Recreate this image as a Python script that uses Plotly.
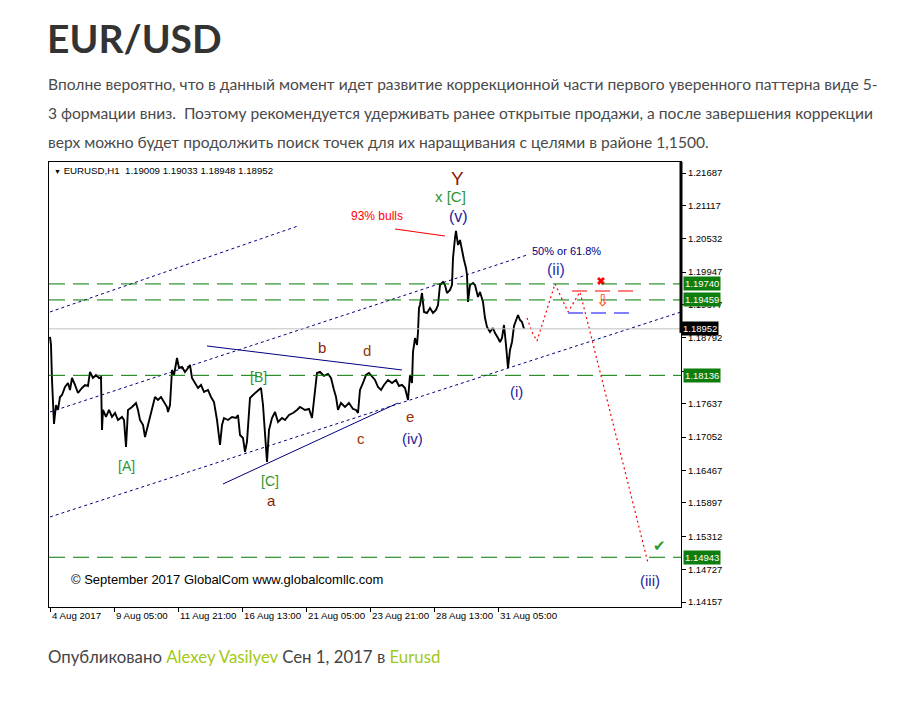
import plotly.graph_objects as go

# ---------------- data ----------------
bar_index = [0,1,2,3,4,6,8,10,12,15,18,20,22,25,28,32,35,38,40,43,46,49,51,52,53,56,59,62,65,68,72,74,76,78,82,86,88,90,93,95,97,
             100,103,105,108,111,114,117,118,120,122,124,127,129,132,135,138,140,142,145,148,151,154,158,161,164,167,170,172,174,178,182,186,188,190,193,195,197,
             200,203,206,208,211,213,215,217,219,222,225,228,232,235,239,243,247,250,255,259,262,265,267,270,274,278,281,284,286,288,291,295,299,
             303,306,308,310,313,316,319,322,325,328,331,334,338,342,346,349,352,355,358,360,362,363,365,367,368,369,370,372,374,377,380,383,386,388,390,393,395,397,
             400,402,403,405,406,407,408,410,412,414,416,417,418,420,423,425,428,430,433,435,437,440,443,445,448,450,452,454,456,458,460,462,464,466,468,470,472,474]
close_price = [1.18809,1.18668,1.18054,1.17528,1.17282,1.17615,1.17528,1.17756,1.17791,1.17931,1.18002,1.17879,1.18089,1.17967,1.17826,1.17914,1.17967,1.17950,1.18195,1.18089,1.18142,1.18089,1.18107,1.17177,1.17528,1.17405,1.17528,1.17405,1.17475,1.17352,1.17405,1.17352,1.16878,1.17528,1.17580,1.17651,1.17528,1.17352,1.17265,1.17054,1.17177,
               1.17405,1.17615,1.17756,1.17703,1.17756,1.17668,1.17580,1.17493,1.17615,1.18230,1.18142,1.18440,1.18265,1.18282,1.18195,1.18265,1.18318,1.18089,1.18002,1.17914,1.17967,1.17844,1.17879,1.17756,1.17668,1.17352,1.16913,1.17265,1.17387,1.17352,1.17405,1.17387,1.17440,1.17089,1.17036,1.16791,1.16973,
               1.17738,1.17791,1.17844,1.17879,1.17914,1.17615,1.17089,1.16615,1.17177,1.17387,1.17493,1.17317,1.17387,1.17352,1.17440,1.17475,1.17528,1.17580,1.17528,1.17545,1.17387,1.17826,1.18177,1.18195,1.18125,1.18160,1.18089,1.17879,1.17756,1.17528,1.17651,1.17580,1.17651,
               1.17545,1.17528,1.17475,1.17879,1.18002,1.18142,1.18177,1.18107,1.18054,1.17931,1.17879,1.17967,1.18054,1.18002,1.18054,1.17949,1.17967,1.17914,1.17703,1.18142,1.18002,1.18546,1.18791,1.18668,1.18897,1.19318,1.19370,1.19581,1.19248,1.19230,1.19318,1.19230,1.19283,1.19370,1.19721,1.19774,1.19721,1.19581,
               1.19634,1.19721,1.20195,1.20546,1.20669,1.20546,1.20423,1.20511,1.20301,1.20160,1.20020,1.19897,1.19423,1.19721,1.19757,1.19721,1.19511,1.19599,1.19423,1.19142,1.18984,1.18897,1.18967,1.18879,1.18791,1.18721,1.18791,1.19019,1.18668,1.18265,1.18581,1.18721,1.19001,1.19107,1.19195,1.19107,1.19072,1.18952]

forecast_bars = [477, 482, 487, 495, 505, 518, 530, 598]
forecast_price = [1.19142, 1.18897, 1.18739, 1.19200, 1.19740, 1.19248, 1.19599, 1.14842]

x_tick_bars = [0, 64, 128, 192, 256, 320, 384, 448]
x_tick_labels = ["4 Aug 2017", "9 Aug 05:00", "11 Aug 21:00", "16 Aug 13:00", "21 Aug 05:00",
                 "23 Aug 21:00", "28 Aug 13:00", "31 Aug 05:00"]
y_tick_values = [1.21687, 1.21117, 1.20532, 1.19947, 1.19377, 1.18792, 1.18207, 1.17637,
                 1.17052, 1.16467, 1.15897, 1.15312, 1.14727, 1.14157]
hidden_y_ticks = [1.18207]
green_levels = [1.19740, 1.19459, 1.18136, 1.14943]
current_price = 1.18952

# ---------------- figure ----------------
# the page body has an 8px margin, so the figure is offset by (8, 8) on screen
OFF = 8
PL, PR, PT, PB = 49, 681, 162, 607      # plot area in screen pixels
W, H = 911 - 2 * OFF, 707 - 2 * OFF
X0, X1 = -1, 631
Y0, Y1 = 1.14070, 1.21880

def px(xp):
    return (xp - PL) / (PR - PL)

def py(yp):
    return (PB - yp) / (PB - PT)

fig = go.Figure()

NAVY = "#000080"
ARIAL = "Liberation Sans, Arial, sans-serif"

def seg(x0, y0, x1, y1, color, dash="solid", width=1):
    fig.add_trace(go.Scatter(x=[x0, x1], y=[y0, y1], mode="lines",
                             line=dict(color=color, dash=dash, width=width),
                             hoverinfo="skip", showlegend=False))

# horizontal levels
fig.add_hline(y=current_price, line=dict(color="#c0c0c0", width=1))
for lv in green_levels:
    fig.add_hline(y=lv, line=dict(color="#007a00", width=1, dash="16px,8px"))

# channels (dotted)
seg(0, 1.19248, 248, 1.20757, NAVY, "3px,3px")
seg(0, 1.17493, 477, 1.20248, NAVY, "3px,3px")
seg(0, 1.15650, 631, 1.19248, NAVY, "3px,3px")
# triangle (solid)
seg(173, 1.16229, 348, 1.17651, NAVY)
seg(157, 1.18651, 352, 1.18230, NAVY)
# red line near 93% bulls
seg(345, 1.20704, 395, 1.20581, "#ff0000", width=1.2)
# red / blue short dashed levels
seg(522, 1.19616, 588, 1.19616, "#ff0000", "15px,8px", 1.2)
seg(518, 1.19230, 582, 1.19230, "#0000ff", "15px,8px", 1.2)

# forecast path
fig.add_trace(go.Scatter(x=forecast_bars, y=forecast_price, mode="lines",
                         line=dict(color="#ff0000", dash="2px,3px", width=1.2),
                         hoverinfo="skip", showlegend=False))

# price
fig.add_trace(go.Scatter(x=bar_index, y=close_price, mode="lines",
                         line=dict(color="black", width=1.9), hoverinfo="skip",
                         showlegend=False))

# red x marker
fig.add_trace(go.Scatter(x=[551], y=[1.19792], mode="markers",
                         marker=dict(symbol="x", size=7, color="#ff0000"),
                         hoverinfo="skip", showlegend=False))

fig.update_layout(
    width=W, height=H,
    margin=dict(l=PL - OFF, r=W - (PR - OFF), t=PT - OFF, b=H - (PB - OFF), pad=0),
    paper_bgcolor="white", plot_bgcolor="white",
    showlegend=False,
    xaxis=dict(range=[X0, X1], tickvals=x_tick_bars, showticklabels=False,
               ticks="outside", ticklen=4, tickcolor="black", showgrid=False,
               zeroline=False, showline=True, linecolor="black", linewidth=1, mirror=True),
    yaxis=dict(range=[Y0, Y1], side="right", tickvals=y_tick_values,
               ticktext=["" if v in hidden_y_ticks else f"{v:.5f}" for v in y_tick_values],
               ticks="outside", ticklen=4, tickcolor="black", showgrid=False,
               zeroline=False, showline=True, linecolor="black", linewidth=1, mirror=True,
               tickfont=dict(family=ARIAL, size=9.5, color="black")),
)

# thick right-edge bar
fig.add_shape(type="line", xref="paper", yref="y", x0=1, x1=1, y0=Y1, y1=1.1888,
              line=dict(color="black", width=3))

ann = []
# x tick labels (left aligned like MT4)
for b, t in zip(x_tick_bars, x_tick_labels):
    ann.append(dict(x=b, y=0, xref="x", yref="paper", text=t, showarrow=False,
                    xanchor="left", yanchor="top", xshift=0, yshift=-1,
                    font=dict(family=ARIAL, size=9.7, color="black")))

# level boxes
for lv in green_levels:
    ann.append(dict(x=1, y=lv, xref="paper", yref="y", text=f"{lv:.5f}", showarrow=False,
                    xanchor="left", yanchor="middle", xshift=2, bgcolor="#0d7d0d",
                    borderpad=1, font=dict(family=ARIAL, size=9.5, color="white")))
ann.append(dict(x=1, y=current_price, xref="paper", yref="y", text=f"{current_price:.5f}",
                showarrow=False, xanchor="left", yanchor="middle", xshift=0, bgcolor="black",
                borderpad=1, font=dict(family=ARIAL, size=9.5, color="white")))

def lab(x, y, t, color, size=14):
    ann.append(dict(x=x, y=y, xref="x", yref="y", text=t, showarrow=False,
                    xanchor="center", yanchor="middle",
                    font=dict(family=ARIAL, size=size, color=color)))

DR = "#8b1a00"
GR = "#2f962f"
BL = "#23239a"
lab(407, 1.21582, "Y", DR, 19)
lab(400, 1.21266, "x [C]", GR, 15)
lab(408, 1.20932, "(v)", BL, 16)
lab(327, 1.20932, "93% bulls", "#ff0000", 12)
lab(516, 1.20318, "50% or 61.8%", NAVY, 11)
lab(506, 1.19985, "(ii)", "#3030b0", 16)
lab(272, 1.18633, "b", DR, 15)
lab(317, 1.18580, "d", "#9a3300", 15)
lab(208, 1.18107, "[B]", GR, 14)
lab(76, 1.16545, "[A]", GR, 14)
lab(220, 1.16282, "[C]", GR, 14)
lab(221, 1.15931, "a", DR, 15)
lab(311, 1.17019, "c", "#9a3300", 15)
lab(360, 1.17422, "e", "#9a3300", 15)
lab(362, 1.17036, "(iv)", BL, 15)
lab(466, 1.17844, "(i)", BL, 15)
lab(600, 1.14527, "(iii)", BL, 15)
lab(609, 1.15141, "✔", "#2a9a2a", 15)
lab(552, 1.19441, "⇩", "#ff4000", 16)

# chart header and copyright
ann.append(dict(x=px(52), y=py(170), xref="paper", yref="paper", showarrow=False,
                xanchor="left", yanchor="middle",
                text="<span style='font-size:7px'>▼</span> EURUSD,H1&nbsp;&nbsp;1.19009 1.19033 1.18948 1.18952",
                font=dict(family=ARIAL, size=9.7, color="black")))
ann.append(dict(x=px(69), y=py(579), xref="paper", yref="paper", showarrow=False,
                xanchor="left", yanchor="middle",
                text="© September 2017 GlobalCom www.globalcomllc.com",
                font=dict(family=ARIAL, size=13, color="black")))

# page text
LATO = "Lato, sans-serif"
ann.append(dict(x=px(45), y=py(38), xref="paper", yref="paper", showarrow=False,
                xanchor="left", yanchor="middle", text="<b>EUR/USD</b>",
                font=dict(family=LATO, size=39, color="#333333")))
para = ["Вполне вероятно, что в данный момент идет развитие коррекционной части первого уверенного паттерна виде 5-",
        "3 формации вниз.&nbsp; Поэтому рекомендуется удерживать ранее открытые продажи, а после завершения коррекции",
        "верх можно будет продолжить поиск точек для их наращивания с целями в районе 1,1500."]
for i, line in enumerate(para):
    ann.append(dict(x=px(46), y=py(84 + 29 * i), xref="paper", yref="paper", showarrow=False,
                    xanchor="left", yanchor="middle", text=line,
                    font=dict(family=LATO, size=15.6, color="#4a4a4a")))
ann.append(dict(x=px(46), y=py(656), xref="paper", yref="paper", showarrow=False,
                xanchor="left", yanchor="middle",
                text="Опубликовано <span style='color:#a3c919'>Alexey Vasilyev</span> Сен 1, 2017 в <span style='color:#a3c919'>Eurusd</span>",
                font=dict(family=LATO, size=16.8, color="#444444")))

fig.update_layout(annotations=ann)
fig.write_html("out.html")
